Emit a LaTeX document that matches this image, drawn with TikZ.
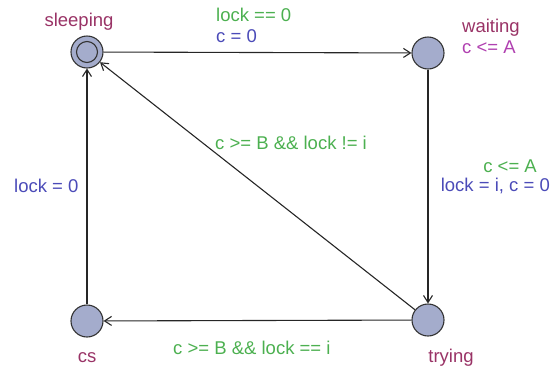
\documentclass[tikz,border=0pt]{standalone}
\usepackage{fontspec}
\setmainfont{Liberation Sans}
\usepackage{tikz}
\usetikzlibrary{arrows.meta}
\definecolor{nom_loc}{HTML}{993366}
\definecolor{invariant}{HTML}{B040B0}
\definecolor{garde}{HTML}{4CB050}
\definecolor{affect}{HTML}{4B4BB8}
\definecolor{remplissage}{HTML}{A4ACCC}

\begin{document}
\begin{tikzpicture}[x=1pt,y=-1pt,>={Straight Barb[length=7pt,width=9pt]},
    loc/.style={circle,draw=black!80,fill=remplissage,line width=1.1pt,minimum size=32pt,inner sep=0pt},
    txt/.style={font=\fontsize{18.5}{21}\selectfont,inner sep=0pt}]

        % Cadre de l'image
        \useasboundingbox (0,0) rectangle (550,373);

        % Placer les locations de l'automate
        \node[loc] (sleeping) at (87,52) {};
        \node[loc] (waiting) at (428,53) {};
        \node[loc] (trying) at (428,320) {};
        \node[loc] (cs) at (87,321) {};

        % Cercle interieur pour la location initiale
        \draw[black!80, line width=1.1pt] (sleeping) circle (10.5pt);

        % Noms des locations et invariant
        \node[txt, text=nom_loc] (n_sleeping) at (79,22) {sleeping};
        \node[txt, text=nom_loc, anchor=west] (n_waiting) at (462,28) {waiting};
        \node[txt, text=invariant, anchor=west] (i_waiting) at (462,47) {c <= A};
        \node[txt, text=nom_loc] (n_trying) at (451,358) {trying};
        \node[txt, text=nom_loc] (n_cs) at (87,358) {cs};

        % Dessiner les transitions
        \draw[->, black!85, line width=1.1pt] (sleeping) -- (waiting);
        \draw[->, black!85, line width=1.1pt] (waiting) -- (trying);
        \draw[->, black!85, line width=1.1pt] (trying) -- (cs);
        \draw[->, black!85, line width=1.1pt] (cs) -- (sleeping);
        \draw[->, black!85, line width=1.1pt] (trying) -- (sleeping);

        % Gardes et mises a jour
        \node[txt, text=garde, anchor=west] (g_sw) at (216,15) {lock == 0};
        \node[txt, text=affect, anchor=west] (a_sw) at (216,36) {c = 0};
        \node[txt, text=garde, anchor=east] (g_wt) at (537,166) {c <= A};
        \node[txt, text=affect, anchor=east] (a_wt) at (550,186) {lock = i, c = 0};
        \node[txt, text=garde, anchor=west] (g_ts) at (215,143) {c >= B \&\& lock != i};
        \node[txt, text=garde, anchor=west] (g_tc) at (173,348) {c >= B \&\& lock == i};
        \node[txt, text=affect, anchor=west] (a_cs) at (14,186) {lock = 0};
\end{tikzpicture}
\end{document}
